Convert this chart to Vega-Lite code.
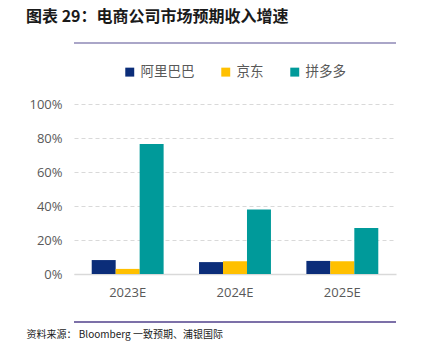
{
  "$schema": "https://vega.github.io/schema/vega-lite/v6.json",
  "width": 322,
  "height": 170,
  "autosize": {"type": "none"},
  "padding": {"left": 74, "top": 104, "right": 28, "bottom": 80},
  "background": "white",
  "title": {
    "text": "图表 29：电商公司市场预期收入增速",
    "anchor": "start",
    "frame": "group",
    "dx": -48,
    "offset": 17,
    "font": "Noto Sans CJK SC",
    "fontSize": 16,
    "fontWeight": "bold",
    "color": "#1a1a1a"
  },
  "config": {
    "view": {"stroke": null},
    "font": "Noto Sans CJK SC"
  },
  "data": {
    "values": [
      {"year": "2023E", "company": "阿里巴巴", "growth": 0.082},
      {"year": "2023E", "company": "京东", "growth": 0.03},
      {"year": "2023E", "company": "拼多多", "growth": 0.765},
      {"year": "2024E", "company": "阿里巴巴", "growth": 0.07},
      {"year": "2024E", "company": "京东", "growth": 0.075},
      {"year": "2024E", "company": "拼多多", "growth": 0.38},
      {"year": "2025E", "company": "阿里巴巴", "growth": 0.077},
      {"year": "2025E", "company": "京东", "growth": 0.075},
      {"year": "2025E", "company": "拼多多", "growth": 0.27}
    ]
  },
  "resolve": {"axis": {"y": "independent"}},
  "layer": [
    {
      "mark": {"type": "bar"},
      "encoding": {
        "x": {
          "field": "year",
          "type": "nominal",
          "scale": {"paddingInner": 0.33, "paddingOuter": 0.165},
          "axis": {
            "labelAngle": 0,
            "labelFontSize": 13,
            "labelColor": "#595959",
            "labelFont": "Open Sans",
            "labelPadding": 12,
            "ticks": false,
            "domainColor": "#d9d9d9",
            "domainWidth": 1.5,
            "title": "资料来源：     Bloomberg 一致预期、浦银国际",
            "titleAnchor": "start",
            "titleAlign": "left",
            "titleX": -48,
            "titleY": 63,
            "titleBaseline": "alphabetic",
            "titleFontSize": 10,
            "titleFontWeight": "normal",
            "titleColor": "#1a1a1a"
          }
        },
        "xOffset": {"field": "company", "type": "nominal", "sort": ["阿里巴巴", "京东", "拼多多"]},
        "y": {
          "field": "growth",
          "type": "quantitative",
          "scale": {"domain": [0, 1]},
          "axis": {
            "title": null,
            "format": ".0%",
            "values": [0, 0.2, 0.4, 0.6, 0.8, 1],
            "labelOverlap": false,
            "labelFontSize": 13,
            "labelColor": "#595959",
            "labelFont": "Open Sans",
            "labelPadding": 12,
            "domain": false,
            "ticks": false,
            "gridColor": "#d9d9d9",
            "gridDash": [4, 3],
            "gridWidth": 1
          }
        },
        "color": {
          "field": "company",
          "type": "nominal",
          "sort": ["阿里巴巴", "京东", "拼多多"],
          "scale": {"domain": ["阿里巴巴", "京东", "拼多多"], "range": ["#0b2d79", "#ffc000", "#009a9a"]},
          "legend": {
            "title": null,
            "orient": "none",
            "direction": "horizontal",
            "legendX": 49,
            "legendY": -39,
            "symbolType": "square",
            "symbolSize": 80,
            "labelFontSize": 13.5,
            "labelColor": "#595959",
            "columnPadding": 24,
            "symbolStrokeWidth": 0
          }
        }
      }
    },
    {
      "mark": {"type": "rule", "clip": false, "color": "#aaa6c8", "strokeWidth": 2},
      "encoding": {"y": {"datum": 1.359, "type": "quantitative", "axis": null}}
    },
    {
      "mark": {"type": "rule", "clip": false, "color": "#7d70a8", "strokeWidth": 1.5},
      "encoding": {"y": {"datum": -0.282, "type": "quantitative", "axis": null}}
    }
  ]
}
